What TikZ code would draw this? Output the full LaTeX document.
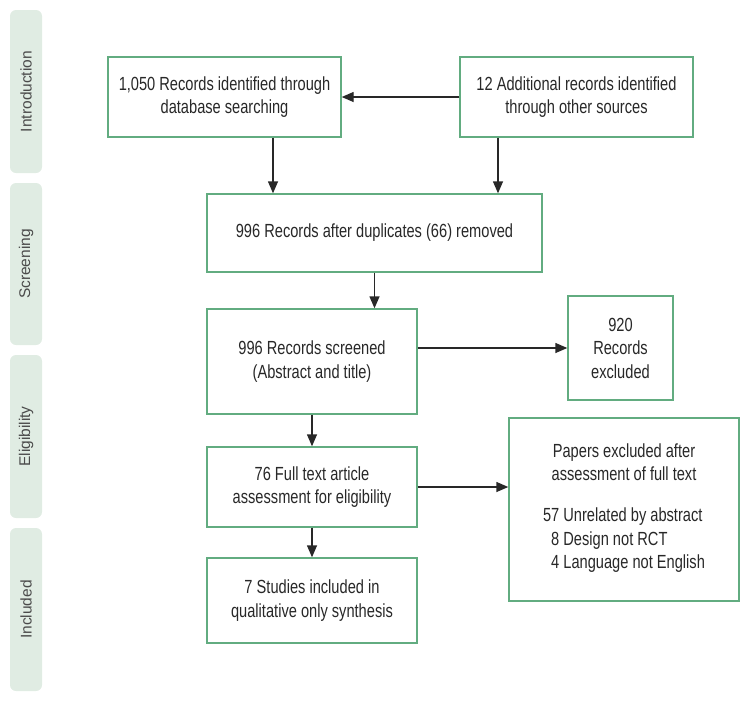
\documentclass[tikz,border=0pt]{standalone}
\usepackage{fontspec}
\setmainfont[FakeStretch=0.77]{Liberation Sans}
\newfontfamily\sidefont{Liberation Sans}
\usetikzlibrary{arrows.meta}

\definecolor{boxgreen}{RGB}{98,172,128}
\definecolor{barfill}{RGB}{224,236,227}
\definecolor{inkgray}{RGB}{40,40,40}
\definecolor{sidegray}{RGB}{75,75,75}

\tikzset{
  flowbox/.style={draw=boxgreen, line width=1.4pt, fill=white, align=center,
    text=inkgray, inner sep=0pt, font=\fontsize{19}{23.5}\selectfont},
  sidebar/.style={fill=barfill, rounded corners=6pt, rotate=90, inner sep=0pt,
    minimum height=32pt, text=sidegray, font=\sidefont\fontsize{15.5}{18}\selectfont},
  flowarrow/.style={draw=inkgray, line width=1.4pt, -{Triangle[length=12pt,width=10pt]}}
}

\begin{document}
\begin{tikzpicture}[x=1pt, y=-1pt]
  \useasboundingbox (0,0) rectangle (750,702);

  % stage bars on the left
  \foreach \stage/\top/\bot in {Introduction/10/173, Screening/183/345,
                                Eligibility/355/518, Included/528/691}
  {
    \pgfmathsetmacro{\len}{\bot-\top}
    \pgfmathsetmacro{\mid}{(\top+\bot)/2}
    \node[sidebar, minimum width=\len pt] (bar\stage) at (26,\mid) {\stage};
  }

  % boxes
  \node[flowbox, minimum width=233pt, minimum height=80pt] (ident) at (224.5,97)
    {1,050 Records identified through\\database searching};
  \node[flowbox, minimum width=233pt, minimum height=80pt] (other) at (576.5,97)
    {12 Additional records identified\\through other sources};
  \node[flowbox, minimum width=335pt, minimum height=78pt] (dupl) at (374.5,233)
    {996 Records after duplicates (66) removed};
  \node[flowbox, minimum width=210pt, minimum height=105pt] (screen) at (312,361.5)
    {996 Records screened\\(Abstract and title)};
  \node[flowbox, minimum width=105pt, minimum height=104pt] (excl) at (620.5,348)
    {920\\Records\\excluded};
  \node[flowbox, minimum width=210pt, minimum height=80pt] (full) at (312,487)
    {76 Full text article\\assessment for eligibility};
  \node[flowbox, minimum width=230pt, minimum height=183pt] (papers) at (624,509.5)
    {Papers excluded after\\assessment of full text\\[23.5pt]
     \begin{tabular}{@{}r@{ }l@{}}
       57 & Unrelated by abstract\\
       8 & Design not RCT\\
       4 & Language not English
     \end{tabular}};
  \node[flowbox, minimum width=210pt, minimum height=85pt] (incl) at (312,600.5)
    {7 Studies included in\\qualitative only synthesis};

  % arrows
  \coordinate (leftdrop) at (273,0);
  \coordinate (rightdrop) at (498,0);
  \draw[flowarrow] (other.west) -- (ident.east);
  \draw[flowarrow] (ident.south -| leftdrop) -- (dupl.north -| leftdrop);
  \draw[flowarrow] (other.south -| rightdrop) -- (dupl.north -| rightdrop);
  \draw[flowarrow] (dupl.south) -- (dupl.south |- screen.north);
  \draw[flowarrow] (screen.east |- excl.west) -- (excl.west);
  \draw[flowarrow] (screen.south) -- (full.north);
  \draw[flowarrow] (full.east) -- (full.east -| papers.west);
  \draw[flowarrow] (full.south) -- (incl.north);

\end{tikzpicture}
\end{document}
